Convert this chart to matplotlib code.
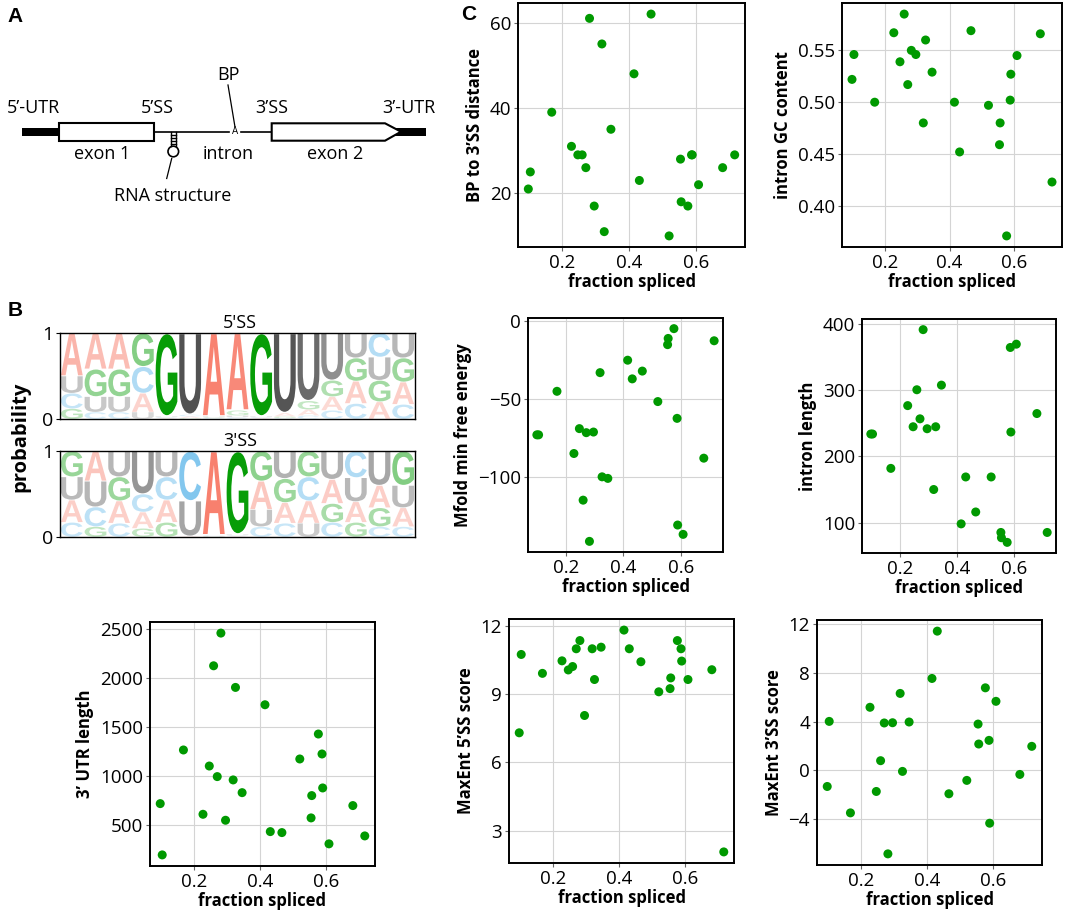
import matplotlib
matplotlib.use("Agg")
import matplotlib.pyplot as plt
import matplotlib.patches as patches
from matplotlib.textpath import TextPath
from matplotlib.font_manager import FontProperties
from matplotlib.transforms import Affine2D

plt.rcParams['font.family'] = ['Open Sans', 'DejaVu Sans']

W, H = 1072, 914

# ---- data: one value per construct, same order in every list ----
frac_spliced = [0.099, 0.105, 0.169, 0.228, 0.247, 0.260, 0.271, 0.282, 0.296, 0.319, 0.326, 0.346,
                0.415, 0.431, 0.466, 0.520, 0.554, 0.556, 0.576, 0.587, 0.589, 0.608, 0.680, 0.716]
bp_to_3ss = [21, 25, 39, 31, 29, 29, 26, 61, 17, 55, 11, 35,
             48, 23, 62, 10, 28, 18, 17, 29, 29, 22, 26, 29]
intron_gc = [0.522, 0.546, 0.500, 0.567, 0.539, 0.585, 0.517, 0.550, 0.546, 0.480, 0.560, 0.529,
             0.500, 0.452, 0.569, 0.497, 0.459, 0.480, 0.371, 0.502, 0.527, 0.545, 0.566, 0.423]
mfold_dg = [-73, -73, -45, -85, -69, -115, -71.6, -141.5, -71.2, -33, -100, -101,
            -25, -37, -32, -51.6, -15, -11, -4.7, -62.4, -131, -137, -88, -12.5]
intron_len = [234, 234, 182, 277, 245, 301, 257, 392, 242, 150, 245, 308,
              98, 169, 116, 169, 85, 77, 70, 365, 237, 370, 265, 85]
utr3_len = [721, 197, 1269, 612, 1105, 2129, 997, 2463, 551, 963, 1908, 833,
            1731, 435, 425, 1177, 575, 803, 1432, 1228, 881, 310, 701, 391]
maxent5 = [7.29, 10.73, 9.90, 10.45, 10.05, 10.20, 10.98, 11.34, 8.05, 10.98, 9.63, 11.05,
           11.80, 10.98, 10.41, 9.09, 9.23, 9.70, 11.34, 10.98, 10.44, 9.63, 10.06, 2.06]
maxent3 = [-1.32, 4.03, -3.49, 5.19, -1.73, 0.80, 3.90, -6.86, 3.92, 6.33, -0.08, 3.98,
           7.56, 11.45, -1.92, -0.82, 3.81, 2.17, 6.79, 2.47, -4.34, 5.68, -0.33, 1.98]

# ---- sequence logo probabilities (15 positions) ----
ss5_A = [0.50, 0.42, 0.42, 0.22, 0.01, 0.02, 0.97, 0.90, 0.01, 0.04, 0.07, 0.16, 0.26, 0.20, 0.26]
ss5_C = [0.18, 0.08, 0.08, 0.31, 0.01, 0.02, 0.01, 0.02, 0.01, 0.01, 0.04, 0.10, 0.18, 0.28, 0.17]
ss5_G = [0.12, 0.32, 0.32, 0.39, 0.97, 0.01, 0.01, 0.06, 0.97, 0.02, 0.10, 0.19, 0.27, 0.25, 0.28]
ss5_U = [0.20, 0.18, 0.18, 0.08, 0.01, 0.95, 0.01, 0.02, 0.01, 0.93, 0.79, 0.55, 0.29, 0.27, 0.29]

ss3_A = [0.26, 0.35, 0.26, 0.19, 0.26, 0.01, 0.98, 0.01, 0.33, 0.24, 0.26, 0.28, 0.24, 0.26, 0.22]
ss3_C = [0.17, 0.23, 0.16, 0.21, 0.27, 0.58, 0.01, 0.01, 0.12, 0.16, 0.28, 0.17, 0.31, 0.12, 0.12]
ss3_G = [0.30, 0.12, 0.28, 0.10, 0.17, 0.00, 0.005, 0.97, 0.35, 0.28, 0.30, 0.22, 0.17, 0.22, 0.40]
ss3_U = [0.27, 0.30, 0.30, 0.50, 0.30, 0.41, 0.005, 0.01, 0.20, 0.32, 0.16, 0.33, 0.28, 0.40, 0.26]

base_colors = {'A': '#f87e6c', 'C': '#3fa9e6', 'G': '#009a00', 'U': '#4a4a4a'}
dot_color = '#009900'

fig = plt.figure(figsize=(W / 100, H / 100), dpi=100)


def px_axes(l, t, r, b):
    return fig.add_axes([l / W, 1 - b / H, (r - l) / W, (b - t) / H])


# ================= panel A: gene diagram =================
axa = px_axes(0, 0, 440, 230)
axa.set_xlim(0, 440)
axa.set_ylim(230, 0)
axa.axis('off')

axa.add_patch(patches.Rectangle((22, 127.5), 37, 8.5, fc='black', ec='none'))
axa.add_patch(patches.Rectangle((395, 127.5), 31, 8.5, fc='black', ec='none'))
axa.plot([154, 229], [131.7, 131.7], color='black', lw=1.2)
axa.plot([241, 272], [131.7, 131.7], color='black', lw=1.2)
axa.add_patch(patches.Rectangle((58.5, 123.3), 95.5, 17.4, fc='white', ec='black', lw=1.5))
axa.add_patch(patches.Polygon([(271.7, 123.3), (385, 123.3), (401, 131.7), (385, 140.7), (271.7, 140.7)],
                              closed=True, fc='white', ec='black', lw=1.5, zorder=3))
# hairpin
axa.plot([170.6, 170.6], [131.7, 146], color='black', lw=1.0)
axa.plot([176.0, 176.0], [131.7, 146], color='black', lw=1.0)
for yy in [134.5, 137.5, 140.5, 143.5]:
    axa.plot([170.6, 176.0], [yy, yy], color='black', lw=1.0)
axa.add_patch(patches.Circle((173.3, 151.5), 5.3, fc='white', ec='black', lw=1.2))
axa.plot([171.7, 166.7], [158.5, 178.5], color='black', lw=0.9)
axa.plot([228, 235], [85, 127], color='black', lw=0.9)
axa.text(235, 132, 'A', fontsize=7, ha='center', va='center')

for label, xx, yy in [('5’-UTR', 33, 108), ('5’SS', 157, 108), ('3’SS', 272, 108), ('3’-UTR', 409, 108),
                      ('BP', 228, 75), ('exon 1', 102, 154), ('intron', 228, 154), ('exon 2', 335, 154),
                      ('RNA structure', 173, 196)]:
    axa.text(xx, yy, label, fontsize=13, ha='center', va='center')

# ================= panel B: sequence logos =================
logo_font = FontProperties(family='Liberation Sans', weight='bold')


def draw_letter(ax, ch, x0, y0, w, h, color, alpha):
    tp = TextPath((0, 0), ch, size=1, prop=logo_font)
    bb = tp.get_extents()
    tr = Affine2D().translate(-bb.x0, -bb.y0).scale(w / bb.width, h / bb.height).translate(x0, y0)
    ax.add_patch(patches.PathPatch(tr.transform_path(tp), fc=color, ec='none', alpha=alpha))


def draw_logo(ax, probs, title, title_y):
    n = len(probs['A'])
    for i in range(n):
        col = sorted(((probs[b][i], b) for b in 'ACGU'), key=lambda t: t[0])
        y = 0.0
        for p, b in col:
            if p > 0.003:
                pad = 0.03 * p
                draw_letter(ax, b, i + 0.04, y + pad / 2, 0.92, p - pad, base_colors[b],
                            min(1.0, 0.15 + 0.85 * p))
            y += p
    ax.set_xlim(0, n)
    ax.set_ylim(0, 1)
    ax.set_xticks([])
    ax.set_yticks([0, 1])
    ax.tick_params(axis='y', labelsize=14, length=3, width=0.8, pad=2)
    for s in ax.spines.values():
        s.set_linewidth(1.0)
    fig.text(240 / W, 1 - title_y / H, title, fontsize=13, ha='center', va='center')


ax5 = px_axes(60, 333, 415, 419)
draw_logo(ax5, {'A': ss5_A, 'C': ss5_C, 'G': ss5_G, 'U': ss5_U}, "5'SS", 323)
ax3 = px_axes(60, 451, 415, 537)
draw_logo(ax3, {'A': ss3_A, 'C': ss3_C, 'G': ss3_G, 'U': ss3_U}, "3'SS", 441)
fig.text(20 / W, 1 - 437 / H, 'probability', fontsize=14.5, fontweight='bold',
         rotation=90, ha='center', va='center')

# ================= panel C: scatter plots =================
scatter_panels = [
    ((518, 3, 745, 247), bp_to_3ss, 'BP to 3’SS distance', [20, 40, 60], None),
    ((842, 3, 1062, 247), intron_gc, 'intron GC content', [0.40, 0.45, 0.50, 0.55], '{:.2f}'),
    ((528, 318, 723, 552), mfold_dg, 'Mfold min free energy', [-100, -50, 0], None),
    ((862, 319, 1056, 553), intron_len, 'intron length', [100, 200, 300, 400], None),
    ((150, 622, 375, 866), utr3_len, '3’ UTR length', [500, 1000, 1500, 2000, 2500], None),
    ((509, 619, 734, 863), maxent5, 'MaxEnt 5’SS score', [3, 6, 9, 12], None),
    ((817, 620, 1042, 865), maxent3, 'MaxEnt 3’SS score', [-4, 0, 4, 8, 12], None),
]

for rect, yvals, ylabel, yticks, fmt in scatter_panels:
    ax = px_axes(*rect)
    ax.scatter(frac_spliced, yvals, s=42, color=dot_color, edgecolors='none', zorder=3)
    ax.set_xticks([0.2, 0.4, 0.6])
    ax.set_yticks(yticks)
    if fmt:
        ax.set_yticklabels([fmt.format(v) for v in yticks])
    ax.grid(True, color='#d4d4d4', lw=0.8, zorder=0)
    ax.set_axisbelow(True)
    ax.tick_params(labelsize=13.5, length=3, width=0.8, color='#666666', pad=2)
    for s in ax.spines.values():
        s.set_linewidth(1.4)
        s.set_color('black')
    ax.set_xlabel('fraction spliced', fontsize=12, fontweight='bold', labelpad=1)
    ax.set_ylabel(ylabel, fontsize=12, fontweight='bold', labelpad=4)

# panel letters
for letter, xx, yy in [('A', 15, 17), ('B', 15, 310), ('C', 469, 15)]:
    fig.text(xx / W, 1 - yy / H, letter, fontsize=15, fontweight='bold', ha='center', va='center',
             family=['Liberation Sans', 'DejaVu Sans'])

fig.savefig('out.png', dpi=100)
